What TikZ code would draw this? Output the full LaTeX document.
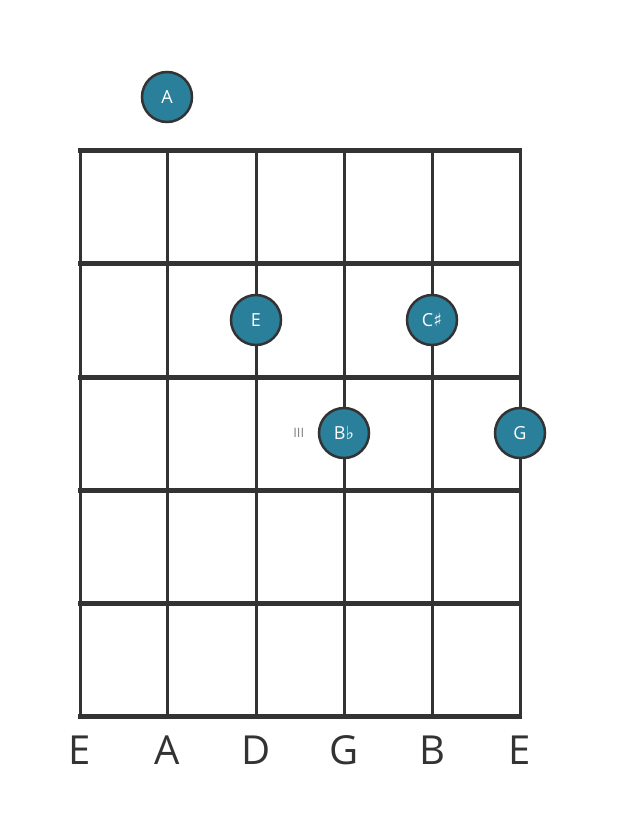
\documentclass[tikz,border=0pt]{standalone}
\usepackage{fontspec}
\setmainfont{Open Sans}
\newfontfamily\symfont{DejaVu Sans}
\usepackage{xcolor}
\usetikzlibrary{positioning}
\definecolor{notefill}{HTML}{2A7F9B}
\definecolor{gridline}{HTML}{333333}
\tikzset{x=1pt, y=-1pt,
	note/.style={
		circle,
		draw=gridline,
		line width=2.5pt,
		fill=notefill,
		minimum size=50pt,
		inner sep=0pt,
		text=white,
		font=\fontsize{18}{18}\selectfont},
	fret/.style={draw=gridline, line width=5pt},
	string/.style={draw=gridline, line width=3pt},
	tuning/.style={text=gridline, font=\fontsize{40}{40}\selectfont},
	fretnum/.style={text=gray, font=\fontsize{13}{13}\selectfont}
}
\begin{document}
\begin{tikzpicture}
			\useasboundingbox (0,0) rectangle (617,835);
			\draw[string] (80,150) -- (80,716);
			\draw[string] (167,150) -- (167,716);
			\draw[string] (256,150) -- (256,716);
			\draw[string] (344,150) -- (344,716);
			\draw[string] (432,150) -- (432,716);
			\draw[string] (520,150) -- (520,716);
			\draw[fret] (78,150) -- (522,150);
			\draw[fret] (78,263) -- (522,263);
			\draw[fret] (78,377) -- (522,377);
			\draw[fret] (78,490) -- (522,490);
			\draw[fret] (78,603) -- (522,603);
			\draw[fret] (78,716) -- (522,716);
			\node[tuning] (s1) at (80,750) {E};
			\node[tuning] (s2) at (167,750) {A};
			\node[tuning] (s3) at (256,750) {D};
			\node[tuning] (s4) at (344,750) {G};
			\node[tuning] (s5) at (432,750) {B};
			\node[tuning] (s6) at (520,750) {E};
			\node[note] (nA) at (167,97) {A};
			\node[note] (nE) at (256,320) {E};
			\node[note] (nCs) at (432,320) {C{\symfont ♯}};
			\node[note] (nBb) at (344,433) {B{\symfont ♭}};
			\node[note] (nG) at (520,433) {G};
			\node[fretnum, left=10pt of nBb] (f3) {III};
		\end{tikzpicture}
\end{document}
